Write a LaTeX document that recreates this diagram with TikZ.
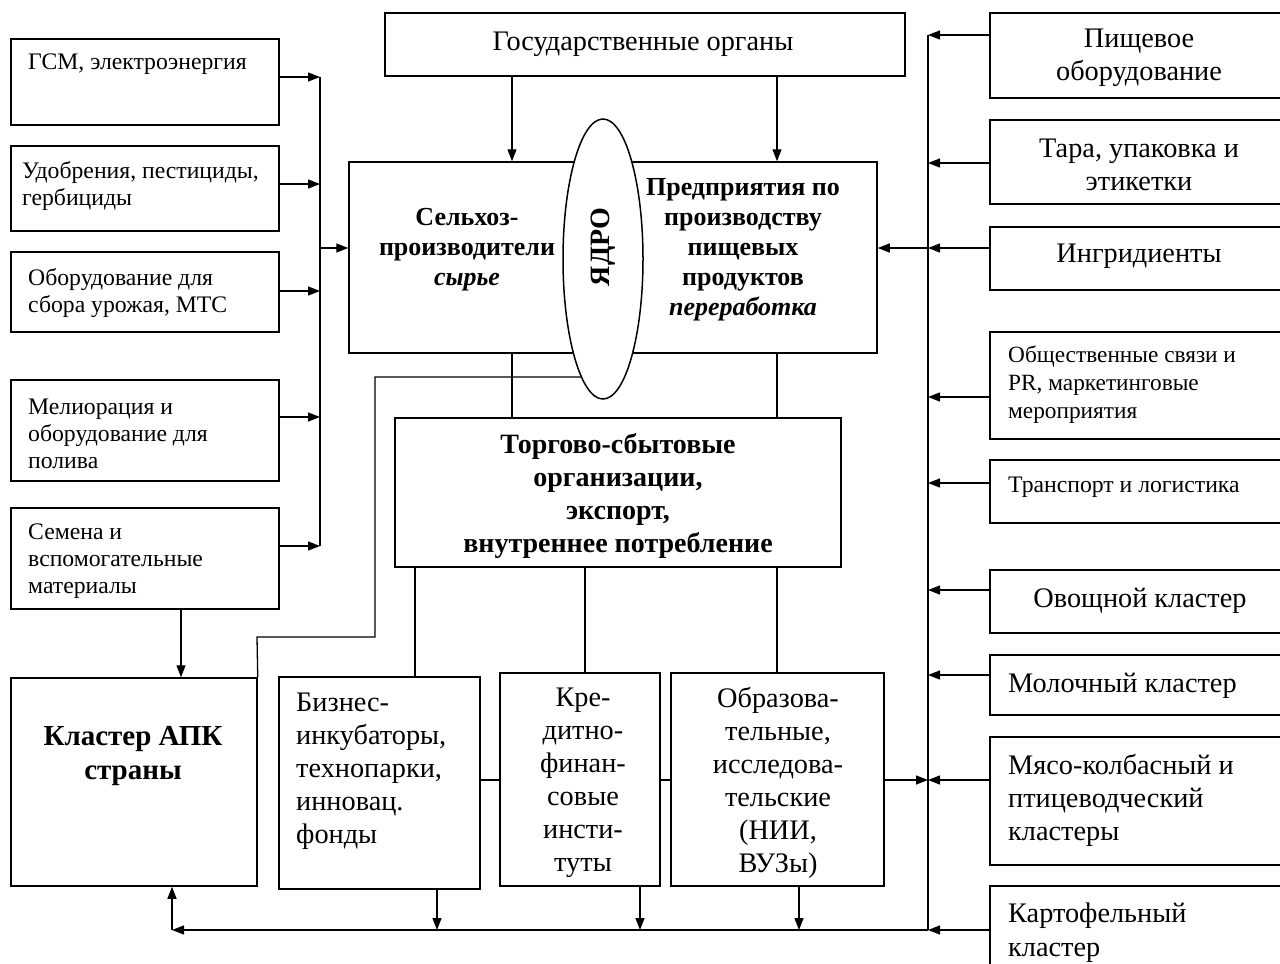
\documentclass[tikz,border=0pt]{standalone}
\usepackage{fontspec}
\setmainfont{Liberation Serif}
\usetikzlibrary{arrows.meta,fit,shapes.geometric}
\begin{document}
\begin{tikzpicture}[x=1pt,y=-1pt,
 box/.style={draw, line width=1.5pt, inner sep=0pt},
 ln/.style={line width=1.3pt},
 arr/.style={ln, -{Triangle[length=12pt,width=9pt]}},
 big/.style={font=\fontsize{28.3}{33}\selectfont, inner sep=0pt, yshift=-2pt},
 sm/.style={font=\fontsize{23.7}{27}\selectfont, inner sep=0pt, yshift=-2pt},
 bf/.style={font=\fontsize{26}{30}\selectfont\bfseries, inner sep=0pt, yshift=-2pt},
]
\clip (0,0) rectangle (1280,964);
\fill[white] (0,0) rectangle (1280,964);
% ---------- left boxes
\node[box, fit={(11,39) (279,125)}] (L1) {};
\node[box, fit={(11,146) (279,231)}] (L2) {};
\node[box, fit={(11,252) (279,332)}] (L3) {};
\node[box, fit={(11,380) (279,481)}] (L4) {};
\node[box, fit={(11,508) (279,609)}] (L5) {};
\node[sm, anchor=west] (tL1) at (28,62) {ГСМ, электроэнергия};
\node[sm, anchor=west, align=left] (tL2) at (22,184) {Удобрения, пестициды,\\гербициды};
\node[sm, anchor=west, align=left] (tL3) at (28,291) {Оборудование для\\сбора урожая, МТС};
\node[sm, anchor=west, align=left] (tL4) at (28,432) {Мелиорация и\\оборудование для\\полива};
\node[sm, anchor=west, align=left] (tL5) at (28,559) {Семена и\\вспомогательные\\материалы};
% left bus
\coordinate (lbt) at (320,77);
\coordinate (lbb) at (320,546);
\coordinate (lbm) at (320,248);
\draw[ln] (lbt) -- (lbb);
\draw[arr] (L1.east |- 0,77) -- (lbt);
\draw[arr] (L2.east |- 0,184) -- (320,184);
\draw[arr] (L3.east |- 0,291) -- (320,291);
\draw[arr] (L4.east |- 0,417) -- (320,417);
\draw[arr] (L5.east |- 0,546) -- (lbb);
% ---------- top box
\node[box, fit={(385,13) (905,76)}] (G) {};
\node[big] (tG) at (643,42) {Государственные органы};
% ---------- main box
\node[box, fit={(349,162) (877,353)}] (M) {};
\draw[arr] (G.south -| 512,0) -- (M.north -| 512,0);
\draw[arr] (G.south -| 777,0) -- (M.north -| 777,0);
\draw[arr] (lbm) -- (M.west |- lbm);
% ---------- trade box
\node[box, fit={(395,418) (841,567)}] (T) {};
\node[bf, align=center, font=\fontsize{28}{33}\selectfont\bfseries] (tT) at (618,494) {Торгово-сбытовые\\организации,\\экспорт,\\внутреннее потребление};
\draw[ln] (M.south -| 512,0) -- (T.north -| 512,0);
\draw[ln] (M.south -| 777,0) -- (T.north -| 777,0);
% ---------- bottom boxes
\node[box, fit={(11,678) (257,886)}] (B0) {};
\node[box, fit={(279,677) (480,889)}] (B1) {};
\node[box, fit={(500,673) (660,886)}] (B2) {};
\node[box, fit={(671,673) (884,886)}] (B3) {};
\node[bf, align=center, font=\fontsize{29}{34}\selectfont\bfseries] (tB0) at (133,754) {Кластер АПК\\страны};
\node[big, anchor=west, align=left] (tB1) at (296,769) {Бизнес-\\инкубаторы,\\технопарки,\\инновац.\\фонды};
\node[big, align=center] (tB2) at (583,781) {Кре-\\дитно-\\финан-\\совые\\инсти-\\туты};
\node[big, align=center] (tB3) at (778,781) {Образова-\\тельные,\\исследова-\\тельские\\(НИИ,\\ВУЗы)};
\draw[ln] (T.south -| 415,0) -- (B1.north -| 415,0);
\draw[ln] (T.south -| 585,0) -- (B2.north -| 585,0);
\draw[ln] (T.south -| 777,0) -- (B3.north -| 777,0);
\draw[arr] (L5.south -| 181,0) -- (B0.north -| 181,0);
% line from the core to the APK cluster
\draw[ln] (603,377) -- (375,377) -- (375,637) -- (257,637) -- (B0.north east);
\draw[ln] (B1.east |- 0,780) -- (B2.west |- 0,780);
\draw[ln] (B2.east |- 0,780) -- (B3.west |- 0,780);
% ---------- right bus
\coordinate (rbt) at (928,35);
\coordinate (rbb) at (928,930);
\coordinate (rbm) at (928,248);
\coordinate (bl) at (172,930);
\draw[ln] (rbt) -- (rbb);
\draw[arr] (B3.east |- 0,780) -- (928,780);
\draw[arr] (rbm) -- (M.east |- rbm);
\draw[arr] (rbb) -- (bl);
\draw[arr] (bl) -- (B0.south -| bl);
\draw[arr] (B1.south -| 437,0) -- (437,930);
\draw[arr] (B2.south -| 640,0) -- (640,930);
\draw[arr] (B3.south -| 799,0) -- (799,930);
% ---------- right boxes
\node[box, fit={(990,13) (1300,98)}] (R1) {};
\node[box, fit={(990,120) (1300,204)}] (R2) {};
\node[box, fit={(990,227) (1300,290)}] (R3) {};
\node[box, fit={(990,332) (1300,439)}] (R4) {};
\node[box, fit={(990,460) (1300,523)}] (R5) {};
\node[box, fit={(990,570) (1300,633)}] (R6) {};
\node[box, fit={(990,655) (1300,715)}] (R7) {};
\node[box, fit={(990,737) (1300,865)}] (R8) {};
\node[box, fit={(990,886) (1300,1000)}] (R9) {};
\node[big, align=center] (tR1) at (1139,56) {Пищевое\\оборудование};
\node[big, align=center] (tR2) at (1139,163) {Тара, упаковка и\\этикетки};
\node[big] (tR3) at (1139,254) {Ингридиенты};
\node[sm, anchor=west, align=left, font=\fontsize{23.3}{28}\selectfont] (tR4) at (1008,383) {Общественные связи и\\PR, маркетинговые\\мероприятия};
\node[sm, anchor=west] (tR5) at (1008,485) {Транспорт и логистика};
\node[big] (tR6) at (1140,599) {Овощной кластер};
\node[big, anchor=west] (tR7) at (1008,684) {Молочный кластер};
\node[big, anchor=west, align=left] (tR8) at (1008,798) {Мясо-колбасный и\\птицеводческий\\кластеры};
\node[big, anchor=west, align=left, font=\fontsize{28.3}{34}\selectfont] (tR9) at (1008,931) {Картофельный\\кластер};
\draw[arr] (R1.west |- rbt) -- (rbt);
\draw[arr] (R2.west |- 0,163) -- (928,163);
\draw[arr] (R3.west |- rbm) -- (rbm);
\draw[arr] (R4.west |- 0,397) -- (928,397);
\draw[arr] (R5.west |- 0,483) -- (928,483);
\draw[arr] (R6.west |- 0,590) -- (928,590);
\draw[arr] (R7.west |- 0,675) -- (928,675);
\draw[arr] (R8.west |- 0,780) -- (928,780);
\draw[arr] (R9.west |- rbb) -- (rbb);
% ---------- core ellipse and main texts
\node[draw, ellipse, line width=1.5pt, fill=white, minimum width=80pt, minimum height=280pt, inner sep=0pt] (E) at (603,259) {};
\node[inner sep=0pt, rotate=90, font=\fontsize{28}{30}\selectfont\bfseries] (tE) at (E.center |- 0,247) {ЯДРО};
\node[bf, align=center] (tM1) at (467,248) {Сельхоз-\\производители\\\textit{сырье}};
\node[bf, align=center] (tM2) at (743,248) {Предприятия по\\производству\\пищевых\\продуктов\\\textit{переработка}};
\end{tikzpicture}
\end{document}
